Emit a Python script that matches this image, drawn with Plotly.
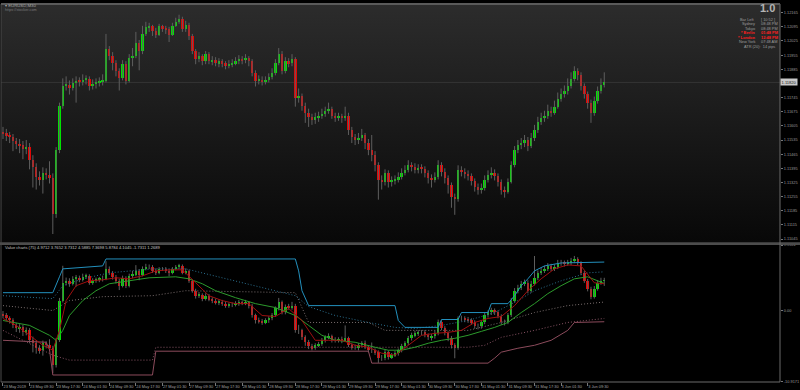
import base64
import plotly.graph_objects as go

# ---------------- data: upper panel (EURUSD M30 candles) ----------------
up_open = [1.11575,1.11568,1.11559,1.11549,1.11529,1.11515,1.11510,1.11490,1.11500,1.11436,
 1.11402,1.11353,1.11339,1.11373,1.11363,1.11348,1.11167,1.11485,1.11705,1.11803,
 1.11808,1.11793,1.11818,1.11828,1.11823,1.11832,1.11837,1.11803,1.11813,1.11818,
 1.11823,1.11828,1.11984,1.11950,1.11916,1.11877,1.11842,1.11911,1.11828,1.11940,
 1.11950,1.12013,1.11974,1.12062,1.12092,1.12097,1.12072,1.12057,1.12097,1.12088,
 1.12082,1.12057,1.12101,1.12121,1.12136,1.12082,1.12106,1.12048,1.11974,1.11935,
 1.11950,1.11925,1.11960,1.11925,1.11930,1.11916,1.11925,1.11916,1.11901,1.11911,
 1.11916,1.11925,1.11935,1.11930,1.11940,1.11925,1.11867,1.11828,1.11833,1.11823,
 1.11832,1.11847,1.11867,1.11916,1.11960,1.11877,1.11925,1.11916,1.11935,1.11744,
 1.11754,1.11705,1.11671,1.11647,1.11632,1.11647,1.11652,1.11666,1.11681,1.11691,
 1.11656,1.11647,1.11652,1.11642,1.11656,1.11583,1.11549,1.11534,1.11544,1.11559,
 1.11520,1.11485,1.11461,1.11412,1.11339,1.11329,1.11373,1.11329,1.11334,1.11339,
 1.11353,1.11373,1.11387,1.11412,1.11402,1.11387,1.11397,1.11392,1.11373,1.11348,
 1.11339,1.11353,1.11412,1.11378,1.11348,1.11314,1.11255,1.11241,1.11387,1.11378,
 1.11368,1.11358,1.11334,1.11304,1.11290,1.11299,1.11339,1.11363,1.11373,1.11358,
 1.11329,1.11290,1.11280,1.11329,1.11412,1.11485,1.11510,1.11520,1.11534,1.11505,
 1.11544,1.11583,1.11622,1.11642,1.11656,1.11681,1.11671,1.11700,1.11740,1.11764,
 1.11779,1.11803,1.11837,1.11877,1.11857,1.11803,1.11764,1.11720,1.11671,1.11730,
 1.11779,1.11808]
up_close = [1.11568,1.11559,1.11549,1.11529,1.11515,1.11510,1.11490,1.11500,1.11436,1.11402,
 1.11353,1.11339,1.11373,1.11363,1.11348,1.11167,1.11485,1.11705,1.11803,1.11808,
 1.11793,1.11818,1.11828,1.11823,1.11832,1.11837,1.11803,1.11813,1.11818,1.11823,
 1.11828,1.11984,1.11950,1.11916,1.11877,1.11842,1.11911,1.11828,1.11940,1.11950,
 1.12013,1.11974,1.12062,1.12092,1.12097,1.12072,1.12057,1.12097,1.12088,1.12082,
 1.12057,1.12101,1.12121,1.12136,1.12082,1.12106,1.12048,1.11974,1.11935,1.11950,
 1.11925,1.11960,1.11925,1.11930,1.11916,1.11925,1.11916,1.11901,1.11911,1.11916,
 1.11925,1.11935,1.11930,1.11940,1.11925,1.11867,1.11828,1.11833,1.11823,1.11832,
 1.11847,1.11867,1.11916,1.11960,1.11877,1.11925,1.11916,1.11935,1.11744,1.11754,
 1.11705,1.11671,1.11647,1.11632,1.11647,1.11652,1.11666,1.11681,1.11691,1.11656,
 1.11647,1.11652,1.11642,1.11656,1.11583,1.11549,1.11534,1.11544,1.11559,1.11520,
 1.11485,1.11461,1.11412,1.11339,1.11329,1.11373,1.11329,1.11334,1.11339,1.11353,
 1.11373,1.11387,1.11412,1.11402,1.11387,1.11397,1.11392,1.11373,1.11348,1.11339,
 1.11353,1.11412,1.11378,1.11348,1.11314,1.11255,1.11241,1.11387,1.11378,1.11368,
 1.11358,1.11334,1.11304,1.11290,1.11299,1.11339,1.11363,1.11373,1.11358,1.11329,
 1.11290,1.11280,1.11329,1.11412,1.11485,1.11510,1.11520,1.11534,1.11505,1.11544,
 1.11583,1.11622,1.11642,1.11656,1.11681,1.11671,1.11700,1.11740,1.11764,1.11779,
 1.11803,1.11837,1.11877,1.11857,1.11803,1.11764,1.11720,1.11671,1.11730,1.11779,
 1.11808,1.11820]
up_high = [1.11600,1.11590,1.11575,1.11565,1.11545,1.11540,1.11530,1.11535,1.11520,1.11460,
 1.11420,1.11380,1.11400,1.11395,1.11430,1.11370,1.11500,1.11720,1.11840,1.11850,
 1.11830,1.11840,1.11850,1.11845,1.11860,1.11855,1.11850,1.11835,1.11840,1.11845,
 1.11860,1.12060,1.12000,1.11970,1.11930,1.11890,1.11930,1.11925,1.11960,1.11990,
 1.12070,1.12030,1.12100,1.12120,1.12115,1.12105,1.12090,1.12110,1.12105,1.12100,
 1.12095,1.12115,1.12140,1.12155,1.12145,1.12125,1.12115,1.12060,1.11985,1.11970,
 1.11960,1.11975,1.11970,1.11950,1.11945,1.11940,1.11935,1.11925,1.11930,1.11935,
 1.11945,1.11955,1.11950,1.11960,1.11950,1.11935,1.11880,1.11855,1.11850,1.11850,
 1.11865,1.11890,1.11935,1.11990,1.11975,1.11945,1.11940,1.11960,1.11945,1.11790,
 1.11765,1.11720,1.11690,1.11665,1.11670,1.11675,1.11690,1.11700,1.11720,1.11700,
 1.11670,1.11670,1.11665,1.11700,1.11670,1.11600,1.11565,1.11570,1.11590,1.11570,
 1.11540,1.11560,1.11480,1.11425,1.11360,1.11390,1.11385,1.11355,1.11360,1.11375,
 1.11395,1.11410,1.11435,1.11425,1.11420,1.11415,1.11415,1.11405,1.11385,1.11365,
 1.11375,1.11435,1.11425,1.11395,1.11360,1.11325,1.11270,1.11410,1.11405,1.11395,
 1.11385,1.11370,1.11345,1.11320,1.11320,1.11360,1.11385,1.11400,1.11390,1.11370,
 1.11340,1.11305,1.11345,1.11430,1.11505,1.11535,1.11545,1.11560,1.11550,1.11570,
 1.11610,1.11650,1.11670,1.11680,1.11710,1.11700,1.11730,1.11770,1.11790,1.11805,
 1.11840,1.11870,1.11900,1.11890,1.11870,1.11815,1.11775,1.11735,1.11750,1.11800,
 1.11840,1.11870]
up_low = [1.11540,1.11530,1.11520,1.11480,1.11490,1.11470,1.11440,1.11465,1.11390,1.11300,
 1.11290,1.11310,1.11270,1.11340,1.11320,1.11070,1.11150,1.11470,1.11690,1.11780,
 1.11760,1.11780,1.11720,1.11800,1.11805,1.11810,1.11780,1.11785,1.11790,1.11800,
 1.11805,1.11820,1.11930,1.11880,1.11850,1.11780,1.11830,1.11810,1.11820,1.11900,
 1.11940,1.11880,1.11960,1.12050,1.12070,1.12050,1.12040,1.12050,1.12070,1.12060,
 1.12020,1.12050,1.12095,1.12110,1.12070,1.12070,1.12030,1.11960,1.11910,1.11920,
 1.11905,1.11910,1.11910,1.11905,1.11900,1.11895,1.11895,1.11885,1.11890,1.11895,
 1.11905,1.11910,1.11910,1.11915,1.11900,1.11850,1.11800,1.11810,1.11805,1.11810,
 1.11820,1.11835,1.11855,1.11905,1.11860,1.11865,1.11895,1.11900,1.11700,1.11720,
 1.11680,1.11620,1.11600,1.11610,1.11615,1.11625,1.11640,1.11650,1.11665,1.11640,
 1.11625,1.11630,1.11620,1.11630,1.11560,1.11520,1.11510,1.11515,1.11530,1.11490,
 1.11460,1.11430,1.11380,1.11240,1.11290,1.11310,1.11300,1.11305,1.11315,1.11325,
 1.11340,1.11360,1.11375,1.11380,1.11370,1.11370,1.11370,1.11350,1.11320,1.11300,
 1.11325,1.11340,1.11355,1.11320,1.11270,1.11200,1.11165,1.11230,1.11355,1.11345,
 1.11335,1.11310,1.11280,1.11265,1.11270,1.11285,1.11325,1.11345,1.11335,1.11305,
 1.11265,1.11250,1.11270,1.11320,1.11400,1.11470,1.11490,1.11500,1.11480,1.11495,
 1.11530,1.11570,1.11610,1.11625,1.11640,1.11650,1.11660,1.11690,1.11725,1.11745,
 1.11760,1.11790,1.11825,1.11830,1.11780,1.11740,1.11690,1.11620,1.11655,1.11715,
 1.11765,1.11795]

# ---------------- data: lower panel (Value charts) ----------------
vc_open = [-0.50,-0.78,-1.23,-1.54,-2.29,-2.75,-2.59,-3.35,-3.05,-4.56,
 -5.01,-5.77,-6.07,-5.01,-5.32,-5.77,-8.34,-4.56,1.49,4.21,
 4.51,4.06,4.81,4.97,4.66,5.12,5.27,4.21,4.51,4.66,
 4.81,4.81,6.33,5.72,5.12,4.51,3.76,4.97,3.76,5.27,
 5.42,6.02,5.42,6.33,6.63,6.63,6.02,5.72,6.33,6.33,
 6.02,5.72,6.33,6.63,6.78,5.72,6.02,4.51,3.00,2.24,
 2.40,1.79,2.24,1.64,1.49,1.19,1.34,1.03,0.73,0.88,
 0.88,1.03,1.19,1.03,1.19,0.73,-0.78,-1.54,-1.69,-1.84,
 -1.54,-1.23,-0.78,0.28,1.19,-0.33,0.58,0.43,0.73,-3.05,
 -3.05,-4.11,-4.86,-5.47,-5.77,-5.32,-5.17,-4.56,-4.11,-3.96,
 -4.56,-4.56,-4.41,-4.56,-4.26,-5.32,-5.62,-5.62,-5.32,-5.01,
 -5.62,-6.07,-6.07,-6.37,-7.28,-7.28,-6.37,-7.13,-6.83,-6.53,
 -6.07,-5.47,-5.01,-4.26,-3.80,-3.50,-3.35,-3.35,-3.80,-4.11,
 -3.96,-3.50,-1.84,-2.75,-3.50,-4.26,-5.32,-5.77,-1.23,-1.23,
 -1.38,-1.54,-1.84,-2.44,-2.44,-1.84,-0.78,-0.33,-0.02,-0.33,
 -0.93,-1.84,-1.84,-0.78,1.49,3.00,3.45,4.06,4.21,3.00,
 4.06,4.97,5.72,6.02,6.33,6.78,6.33,6.63,7.23,7.23,
 7.08,7.23,7.54,7.84,7.23,5.72,4.51,3.30,2.09,3.30,
 4.21,4.51]
vc_close = [-0.78,-1.23,-1.54,-2.29,-2.75,-2.59,-3.35,-3.05,-4.56,-5.01,
 -5.77,-6.07,-5.01,-5.32,-5.77,-8.34,-4.56,1.49,4.21,4.51,
 4.06,4.81,4.97,4.66,5.12,5.27,4.21,4.51,4.66,4.81,
 4.81,6.33,5.72,5.12,4.51,3.76,4.97,3.76,5.27,5.42,
 6.02,5.42,6.33,6.63,6.63,6.02,5.72,6.33,6.33,6.02,
 5.72,6.33,6.63,6.78,5.72,6.02,4.51,3.00,2.24,2.40,
 1.79,2.24,1.64,1.49,1.19,1.34,1.03,0.73,0.88,0.88,
 1.03,1.19,1.03,1.19,0.73,-0.78,-1.54,-1.69,-1.84,-1.54,
 -1.23,-0.78,0.28,1.19,-0.33,0.58,0.43,0.73,-3.05,-3.05,
 -4.11,-4.86,-5.47,-5.77,-5.32,-5.17,-4.56,-4.11,-3.96,-4.56,
 -4.56,-4.41,-4.56,-4.26,-5.32,-5.62,-5.62,-5.32,-5.01,-5.62,
 -6.07,-6.07,-6.37,-7.28,-7.28,-6.37,-7.13,-6.83,-6.53,-6.07,
 -5.47,-5.01,-4.26,-3.80,-3.50,-3.35,-3.35,-3.80,-4.11,-3.96,
 -3.50,-1.84,-2.75,-3.50,-4.26,-5.32,-5.77,-1.23,-1.23,-1.38,
 -1.54,-1.84,-2.44,-2.44,-1.84,-0.78,-0.33,-0.02,-0.33,-0.93,
 -1.84,-1.84,-0.78,1.49,3.00,3.45,4.06,4.21,3.00,4.06,
 4.97,5.72,6.02,6.33,6.78,6.33,6.63,7.23,7.23,7.08,
 7.23,7.54,7.84,7.23,5.72,4.51,3.30,2.09,3.30,4.21,
 4.51,4.59]
vc_high = [-0.10,-0.40,-0.90,-1.20,-1.90,-2.10,-2.20,-2.60,-2.70,-4.00,
 -4.60,-5.30,-4.60,-4.70,-4.40,-5.40,-4.20,1.90,6.80,5.00,
 4.90,5.20,5.40,5.30,5.60,5.60,5.50,4.90,5.00,5.10,
 5.30,7.50,6.70,6.00,5.40,4.80,5.30,5.20,5.60,6.00,
 6.90,6.30,6.70,7.10,7.00,6.90,6.40,6.60,6.60,6.60,
 6.30,6.60,6.90,7.10,7.00,6.40,6.20,4.70,3.30,2.80,
 2.60,2.60,2.50,2.00,1.80,1.70,1.60,1.40,1.20,1.20,
 1.40,1.60,1.50,1.60,1.40,1.00,-0.50,-1.10,-1.30,-1.20,
 -0.90,-0.40,0.60,1.90,1.50,0.90,1.00,1.30,1.00,-2.20,
 -2.80,-3.80,-4.50,-5.10,-5.00,-4.80,-4.20,-3.80,-3.50,-3.70,
 -4.10,-4.10,-4.00,-2.30,-4.00,-5.00,-5.20,-5.00,-4.70,-4.60,
 -5.30,-4.90,-5.80,-6.10,-6.80,-6.00,-6.10,-6.50,-6.20,-5.80,
 -5.10,-4.70,-3.90,-3.40,-3.10,-3.00,-3.00,-3.00,-3.50,-3.60,
 -3.10,-1.40,-1.50,-2.40,-3.20,-3.90,-5.00,-0.90,-0.80,-0.90,
 -1.00,-1.20,-1.50,-2.00,-1.50,-0.40,0.00,0.40,0.30,0.00,
 -0.60,-1.40,-0.40,1.90,3.40,3.90,4.50,4.70,4.60,4.50,
 8.29,6.10,6.50,6.80,7.20,7.10,7.00,7.70,7.70,7.60,
 7.70,8.00,8.30,8.10,7.50,6.00,4.80,3.60,3.70,4.60,
 4.97,4.97]
vc_low = [-1.20,-1.60,-2.00,-2.70,-3.30,-3.40,-3.90,-3.80,-5.00,-6.40,
 -6.60,-6.60,-6.90,-5.80,-6.20,-9.55,-8.70,-4.80,1.20,3.80,
 3.60,3.80,3.60,4.30,4.40,4.80,3.90,3.90,4.20,4.30,
 4.40,4.60,5.40,4.70,4.10,3.10,3.50,3.40,3.50,4.90,
 5.20,4.60,5.20,6.10,6.30,5.70,5.40,5.50,6.00,5.70,
 5.20,5.50,6.10,6.30,5.50,5.50,4.20,2.70,1.80,1.90,
 1.40,1.50,1.40,1.10,0.90,0.80,0.70,0.40,0.40,0.50,
 0.60,0.70,0.80,0.80,0.30,-1.10,-2.00,-2.00,-2.20,-2.10,
 -1.90,-1.50,-1.00,0.00,-0.60,-0.60,0.10,0.10,-3.40,-3.60,
 -4.50,-5.40,-5.90,-6.10,-6.00,-5.60,-5.40,-4.90,-4.40,-4.90,
 -4.90,-4.90,-5.00,-4.80,-5.60,-6.00,-6.00,-6.10,-5.60,-5.90,
 -6.40,-6.50,-6.80,-8.00,-7.70,-7.60,-7.50,-7.40,-7.10,-6.90,
 -6.40,-5.80,-5.30,-4.60,-4.10,-3.90,-3.80,-4.10,-4.50,-4.60,
 -4.30,-3.80,-3.00,-3.80,-4.70,-5.80,-7.30,-6.00,-1.60,-1.80,
 -1.90,-2.20,-2.80,-2.90,-2.80,-2.10,-1.10,-0.70,-0.70,-1.20,
 -2.20,-2.30,-2.10,-1.00,1.20,2.60,3.10,3.70,2.60,2.70,
 3.80,4.60,5.40,5.70,6.00,6.00,6.00,6.30,6.80,6.70,
 6.80,6.90,7.20,6.90,5.40,4.20,2.90,1.70,1.80,3.00,
 3.90,3.73]

# indicator lines of the lower panel (bar index, value)
cyan_idx = [0,15,17,18,30,31,88,89,90,92,118,119,121,131,132,137,138,146,147,152,154,156,158,160,163,168,181]
cyan_val = [2.70,2.70,5.12,6.33,6.78,7.84,7.84,6.02,3.00,0.73,0.73,-1.54,-2.59,-2.59,-1.39,-1.39,-0.33,-0.33,1.03,1.03,2.24,3.76,4.81,6.02,6.78,7.23,7.37]
band_lo_idx = [0,13,14,15,45,46,110,111,146,148,150,155,160,165,170,172,181]
band_lo_val = [-4.56,-4.86,-6.00,-9.85,-9.85,-6.22,-6.22,-8.04,-8.04,-7.28,-6.37,-5.77,-5.32,-4.56,-3.05,-1.84,-1.73]
ma_slow_idx = [0,8,14,16,18,20,24,28,32,38,44,52,56,60,64,70,76,82,88,92,96,100,106,112,116,120,124,128,132,136,140,144,148,152,156,160,164,168,172,176,181]
ma_slow_val = [-1.54,-2.29,-3.80,-4.56,-3.05,-0.78,1.49,3.00,4.06,4.51,4.97,5.12,4.81,4.06,3.00,1.94,1.03,0.43,-0.78,-2.29,-3.80,-4.56,-4.86,-5.62,-6.07,-6.07,-5.62,-5.01,-4.56,-4.26,-3.80,-3.20,-2.59,-1.84,-0.33,1.03,2.55,3.76,4.81,5.12,4.10]
ma_fast_idx = [0,4,8,12,15,17,19,22,26,30,34,38,42,46,50,54,58,62,66,70,74,78,82,86,90,94,98,102,106,110,114,118,122,126,130,134,138,142,146,150,154,158,162,166,170,174,178,181]
ma_fast_val = [-1.23,-2.29,-3.80,-5.32,-6.07,-3.05,1.49,3.76,4.51,4.66,4.97,4.81,5.27,6.02,6.18,6.18,4.21,2.24,1.49,1.03,1.03,-0.78,-0.93,0.28,-1.54,-4.56,-4.56,-4.56,-5.32,-5.62,-6.53,-6.83,-5.32,-3.80,-3.50,-3.35,-3.05,-1.84,-1.23,-0.93,0.73,3.00,4.81,6.33,6.93,6.78,4.21,4.06]
dot_up_idx = [0,15,18,24,32,45,55,60,70,80,88,92,100,110,118,124,132,140,148,155,160,168,176,181]
dot_up_val = [2.24,1.79,3.76,4.81,5.72,6.33,6.33,5.72,4.51,3.30,2.24,0.58,-0.78,-1.84,-2.59,-2.75,-2.29,-1.54,-0.33,1.49,3.00,4.51,5.72,5.88]
dot_mid_idx = [0,15,20,30,45,55,88,92,110,115,140,150,160,170,181]
dot_mid_val = [0.73,-0.02,1.49,2.09,2.24,3.00,2.70,-1.84,-1.84,-3.05,-3.05,-1.84,-0.33,0.73,1.27]
dot_lo_idx = [0,15,20,45,46,110,140,145,150,160,170,181]
dot_lo_val = [-3.05,-6.83,-7.58,-7.58,-5.62,-5.62,-5.62,-5.32,-4.11,-3.05,-1.84,-1.23]

# axis ticks / labels (the 1.11815 level sits under the current-price box)
price_ticks = [1.12165,1.12095,1.12025,1.11955,1.11885,1.11745,1.11675,1.11605,
               1.11535,1.11465,1.11395,1.11325,1.11255,1.11185,1.11115,1.11045]
vc_ticks = [9.9551, 0.0, -10.9171]
vc_ticktext = ["9.9551", "0.00", "-10.9171"]
date_tick_idx = [0,8,16,24,32,40,48,56,64,72,80,88,96,104,112,120,128,136,144,152,160,168,176]
date_labels = ["23 May 2019","23 May 09:30","23 May 17:30","24 May 01:30","24 May 09:30","24 May 17:30",
               "27 May 01:30","27 May 09:30","27 May 17:30","28 May 01:30","28 May 09:30","28 May 17:30",
               "29 May 01:30","29 May 09:30","29 May 17:30","30 May 01:30","30 May 09:30","30 May 17:30",
               "31 May 01:30","31 May 09:30","31 May 17:30","3 Jun 01:30","3 Jun 09:30"]
info_labels = ["Bar Left", "Sydney", "Tokyo", "* Berlin", "* London", "New York"]
info_values = ["[ 10:52 ]", "08:48 PM", "08:48 PM", "01:48 PM", "12:48 PM", "07:48 AM"]
info_red = [False, False, False, True, True, False]
vc_title = "Value charts (75) 4.9712 3.7652 3.7312 4.5885 7.3698 5.8784 4.1045 -1.7311 1.2689"

# ---------------- styles ----------------
BULL = "#00e400"
BEAR = "#e80000"
WICK = "#5e5e5e"
FONT = "Liberation Sans, Arial, sans-serif"
W, H = 800, 390
ML, MR, MT, MB = 1, 18, 2, 7
UP_DOM = [0.3701, 1.0]
LO_DOM = [0.0, 0.3622]


def px2paper(px, py):
    return (px - ML) / (W - ML - MR), (H - MB - py) / (H - MT - MB)


def candle_traces(o, h, l, c, xa, ya):
    idx = list(range(len(c)))
    wx, wy = [], []
    for i in idx:
        wx += [i, i, None]
        wy += [l[i], h[i], None]
    wick = go.Scatter(x=wx, y=wy, mode="lines", line=dict(color=WICK, width=1),
                      hoverinfo="skip", xaxis=xa, yaxis=ya)
    body = go.Bar(x=idx, y=[abs(c[i] - o[i]) for i in idx],
                  base=[min(o[i], c[i]) for i in idx],
                  marker=dict(color=[BULL if c[i] >= o[i] else BEAR for i in idx], line=dict(width=0)),
                  width=0.72, xaxis=xa, yaxis=ya)
    return [wick, body]


fig = go.Figure()
for t in candle_traces(up_open, up_high, up_low, up_close, "x", "y"):
    fig.add_trace(t)
for t in candle_traces(vc_open, vc_high, vc_low, vc_close, "x2", "y2"):
    fig.add_trace(t)


def line(ix, v, color, dash="solid", width=1):
    fig.add_trace(go.Scatter(x=ix, y=v, mode="lines", xaxis="x2", yaxis="y2",
                             line=dict(color=color, width=width, dash=dash), hoverinfo="skip"))


DOT = "1px,2px"
line(dot_lo_idx, dot_lo_val, "#8a5566", DOT)
line(dot_mid_idx, dot_mid_val, "#7a6e6e", DOT)
line(dot_up_idx, dot_up_val, "#2b6f8e", DOT)
line(band_lo_idx, band_lo_val, "#8c4b5c")
line(cyan_idx, cyan_val, "#2390bd")
line(ma_slow_idx, ma_slow_val, "#2c9a2c")
line(ma_fast_idx, ma_fast_val, "#a01010")

# gradient background for the upper panel
svg = ("<svg xmlns='http://www.w3.org/2000/svg' width='10' height='100' preserveAspectRatio='none'>"
       "<defs><linearGradient id='g' x1='0' y1='0' x2='0' y2='1'>"
       "<stop offset='0' stop-color='#2c2c2c'/><stop offset='1' stop-color='#080808'/>"
       "</linearGradient></defs><rect width='10' height='100' fill='url(#g)'/></svg>")
img_src = "data:image/svg+xml;base64," + base64.b64encode(svg.encode()).decode()

xr = [-0.6, 233.9]
axfont = dict(family=FONT, size=3.9, color="#a0a0a0")

ann = []
# top-left symbol title
x0, y0 = px2paper(3, 4)
ann.append(dict(x=x0, y=y0, xref="paper", yref="paper", xanchor="left", yanchor="middle",
                text="▾ EURUSD,M30", showarrow=False, font=dict(family=FONT, size=4.3, color="#a8a8a8")))
x0, y0 = px2paper(3, 8.5)
ann.append(dict(x=x0, y=y0, xref="paper", yref="paper", xanchor="left", yanchor="middle",
                text="https://stocker.com", showarrow=False, font=dict(family=FONT, size=3.8, color="#7a7a7a")))
# info panel
x0, y0 = px2paper(778, 6.5)
ann.append(dict(x=x0, y=y0, xref="paper", yref="paper", xanchor="right", yanchor="middle",
                text="<b>1.0</b>", showarrow=False, borderpad=0,
                font=dict(family=FONT, size=11, color="#b4b4b4")))
for k, (lab, val, red) in enumerate(zip(info_labels, info_values, info_red)):
    py = 17.5 + 4.5 * k
    col = "#ff2020" if red else "#9c9c9c"
    lt = "<b>%s</b>" % lab if red else lab
    vt = "<b>%s</b>" % val if red else val
    xa, ya_ = px2paper(758, py)
    ann.append(dict(x=xa, y=ya_, xref="paper", yref="paper", xanchor="right", yanchor="middle",
                    text=lt, showarrow=False, borderpad=0, font=dict(family=FONT, size=3.9, color=col)))
    xb, yb = px2paper(762, py)
    ann.append(dict(x=xb, y=yb, xref="paper", yref="paper", xanchor="left", yanchor="middle",
                    text=vt, showarrow=False, borderpad=0, font=dict(family=FONT, size=3.9, color=col)))
xa, ya_ = px2paper(778, 44.5)
ann.append(dict(x=xa, y=ya_, xref="paper", yref="paper", xanchor="right", yanchor="middle",
                text="ATR (20):  14 pips", showarrow=False, borderpad=0,
                font=dict(family=FONT, size=3.9, color="#9c9c9c")))
# lower panel title
xa, ya_ = px2paper(3, 247.5)
ann.append(dict(x=xa, y=ya_, xref="paper", yref="paper", xanchor="left", yanchor="middle",
                text=vc_title, showarrow=False, font=dict(family=FONT, size=4.1, color="#c4c4c4")))
# current price label
ann.append(dict(x=1.0, y=up_close[-1], xref="paper", yref="y", xanchor="left", yanchor="middle",
                text="%.5f" % up_close[-1], showarrow=False, bgcolor="#c8c8c8", borderpad=0.6,
                font=dict(family=FONT, size=4.0, color="#202020")))

shapes = [
    dict(type="line", xref="paper", yref="y", x0=0, x1=1, y0=up_close[-1], y1=up_close[-1],
         line=dict(color="#343434", width=1), layer="below"),
    dict(type="rect", xref="paper", yref="paper", x0=-0.01, x1=1.03, y0=LO_DOM[1] + 0.0005, y1=UP_DOM[0] - 0.0005,
         fillcolor="#4c4c4c", line=dict(width=0)),
    dict(type="line", xref="paper", yref="paper", x0=1, x1=1, y0=0, y1=1, line=dict(color="#6a6a6a", width=1)),
    dict(type="line", xref="paper", yref="paper", x0=0, x1=0, y0=0, y1=1, line=dict(color="#4a4a4a", width=1)),
    dict(type="line", xref="paper", yref="paper", x0=0, x1=1, y0=1, y1=1, line=dict(color="#5a5a5a", width=2)),
    dict(type="line", xref="paper", yref="paper", x0=0, x1=1, y0=0, y1=0, line=dict(color="#6a6a6a", width=1)),
]

fig.update_layout(
    width=W, height=H, margin=dict(l=ML, r=MR, t=MT, b=MB),
    paper_bgcolor="#000000", plot_bgcolor="rgba(0,0,0,0)",
    showlegend=False, hovermode=False,
    font=dict(family=FONT, color="#a0a0a0"),
    images=[dict(source=img_src, xref="paper", yref="paper", x=0, y=1, sizex=1,
                 sizey=UP_DOM[1] - UP_DOM[0], sizing="stretch", xanchor="left", yanchor="top",
                 layer="below")],
    xaxis=dict(domain=[0, 1], anchor="y", range=xr, showticklabels=False, showgrid=False,
               zeroline=False, showline=False, matches="x2"),
    xaxis2=dict(domain=[0, 1], anchor="y2", range=xr, showgrid=False, zeroline=False, showline=False,
                tickmode="array", tickvals=date_tick_idx, ticktext=date_labels,
                ticklabelposition="outside right", tickfont=axfont, ticks="outside", ticklen=3,
                tickcolor="#777777", tickangle=0),
    yaxis=dict(domain=UP_DOM, anchor="x", side="right", range=[1.11030, 1.12208], showgrid=False,
               zeroline=False, tickmode="array", tickvals=price_ticks,
               ticktext=["%.5f" % v for v in price_ticks], tickfont=dict(family=FONT, size=3.9, color="#9a9a9a"),
               ticks="outside", ticklen=2, tickcolor="#777777"),
    yaxis2=dict(domain=LO_DOM, anchor="x2", side="right", range=[-10.9171, 9.9551], showgrid=False,
                zeroline=False, tickmode="array", tickvals=vc_ticks, ticktext=vc_ticktext,
                tickfont=dict(family=FONT, size=3.9, color="#9a9a9a"), ticks="outside", ticklen=2,
                tickcolor="#777777"),
    annotations=ann, shapes=shapes, bargap=0,
)

fig.write_html("out.html")
